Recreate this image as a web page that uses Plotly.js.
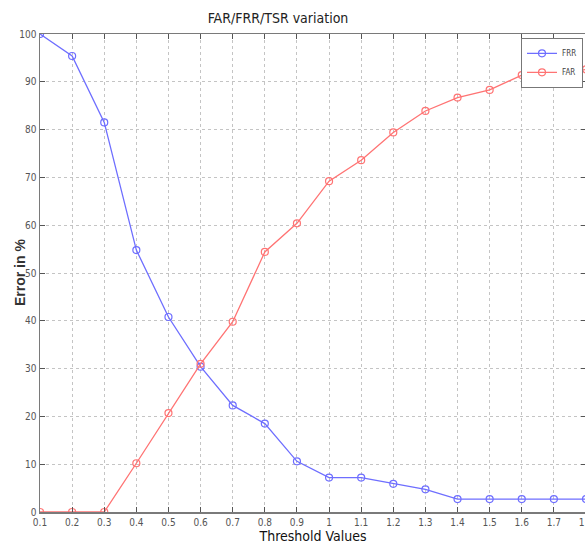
<!DOCTYPE html>
<html>
<head>
<meta charset="utf-8">
<script src="https://cdn.plot.ly/plotly-3.0.1.min.js"></script>
<style>
html,body{margin:0;padding:0;overflow:hidden;background:#fff;width:585px;height:551px;}
#wrap{position:relative;width:585px;height:551px;overflow:hidden;}
#chart{position:absolute;left:0;top:0;width:600px;height:551px;}
</style>
</head>
<body>
<div id="wrap"><div id="chart"></div></div>
<script>
const thresholds = [0.1,0.2,0.3,0.4,0.5,0.6,0.7,0.8,0.9,1.0,1.1,1.2,1.3,1.4,1.5,1.6,1.7,1.8];
const frrValues = [100,95.4,81.5,54.8,40.8,30.4,22.3,18.5,10.6,7.2,7.2,5.9,4.75,2.7,2.7,2.7,2.7,2.7];
const farValues = [0,0,0,10.2,20.7,31.0,39.8,54.4,60.4,69.2,73.6,79.4,83.9,86.7,88.3,91.4,91.5,92.6];
const xTickVals = [0.1,0.2,0.3,0.4,0.5,0.6,0.7,0.8,0.9,1.0,1.1,1.2,1.3,1.4,1.5,1.6,1.7,1.8];
const xTickText = ['0.1','0.2','0.3','0.4','0.5','0.6','0.7','0.8','0.9','1','1.1','1.2','1.3','1.4','1.5','1.6','1.7','1.8'];
const yTickVals = [0,10,20,30,40,50,60,70,80,90,100];

const narrow = '"Liberation Sans Narrow", "DejaVu Sans Condensed", Arial, sans-serif';
const tickFont = {family:narrow, size:10, color:'#555'};

const traces = [
  {x:thresholds, y:frrValues, name:'FRR', mode:'lines+markers',
   line:{color:'rgb(110,110,255)', width:1.3},
   marker:{symbol:'circle-open', size:7, color:'rgb(110,110,255)', line:{width:1.2}}},
  {x:thresholds, y:farValues, name:'FAR', mode:'lines+markers',
   line:{color:'rgb(255,115,115)', width:1.3},
   marker:{symbol:'circle-open', size:7, color:'rgb(255,115,115)', line:{width:1.2}}}
];

const axisCommon = {
  showline:true, linecolor:'#7a7a7a', linewidth:1.5, mirror:'allticks',
  ticks:'inside', ticklen:5, tickcolor:'#555', tickwidth:1,
  showgrid:true, gridcolor:'#c4c4c4', griddash:'dot', gridwidth:1,
  zeroline:false, tickfont:tickFont
};

const layout = {
  width:600, height:551,
  margin:{l:40, r:14, t:34, b:39, autoexpand:false},
  paper_bgcolor:'#fff', plot_bgcolor:'#fff',
  title:{text:'FAR/FRR/TSR variation', x:278/600, xref:'container', xanchor:'center', y:1-18/551, yref:'container', yanchor:'middle',
         font:{family:narrow, size:14, color:'#222'}},
  xaxis:Object.assign({}, axisCommon, {range:[0.1,1.8], tickvals:xTickVals, ticktext:xTickText,
         title:{text:'Threshold Values', standoff:4, font:{family:narrow, size:14, color:'#111'}}}),
  yaxis:Object.assign({}, axisCommon, {range:[0,100], tickvals:yTickVals}),
  annotations:[{text:'Error in %', textangle:-90, xref:'paper', yref:'paper', x:-20/546, y:0.5,
                xanchor:'center', yanchor:'middle', showarrow:false,
                font:{family:'"Liberation Sans", Arial, sans-serif', size:14, color:'#333', weight:'bold'}}],
  showlegend:true,
  legend:{x:(583-40)/546, y:0.992, xanchor:'right', yanchor:'top', bgcolor:'#fff', bordercolor:'#777', borderwidth:1,
          font:{family:narrow, size:8, color:'#444'}, itemwidth:30, tracegroupgap:0}
};

Plotly.newPlot('chart', traces, layout, {displayModeBar:false, staticPlot:true});
</script>
</body>
</html>
